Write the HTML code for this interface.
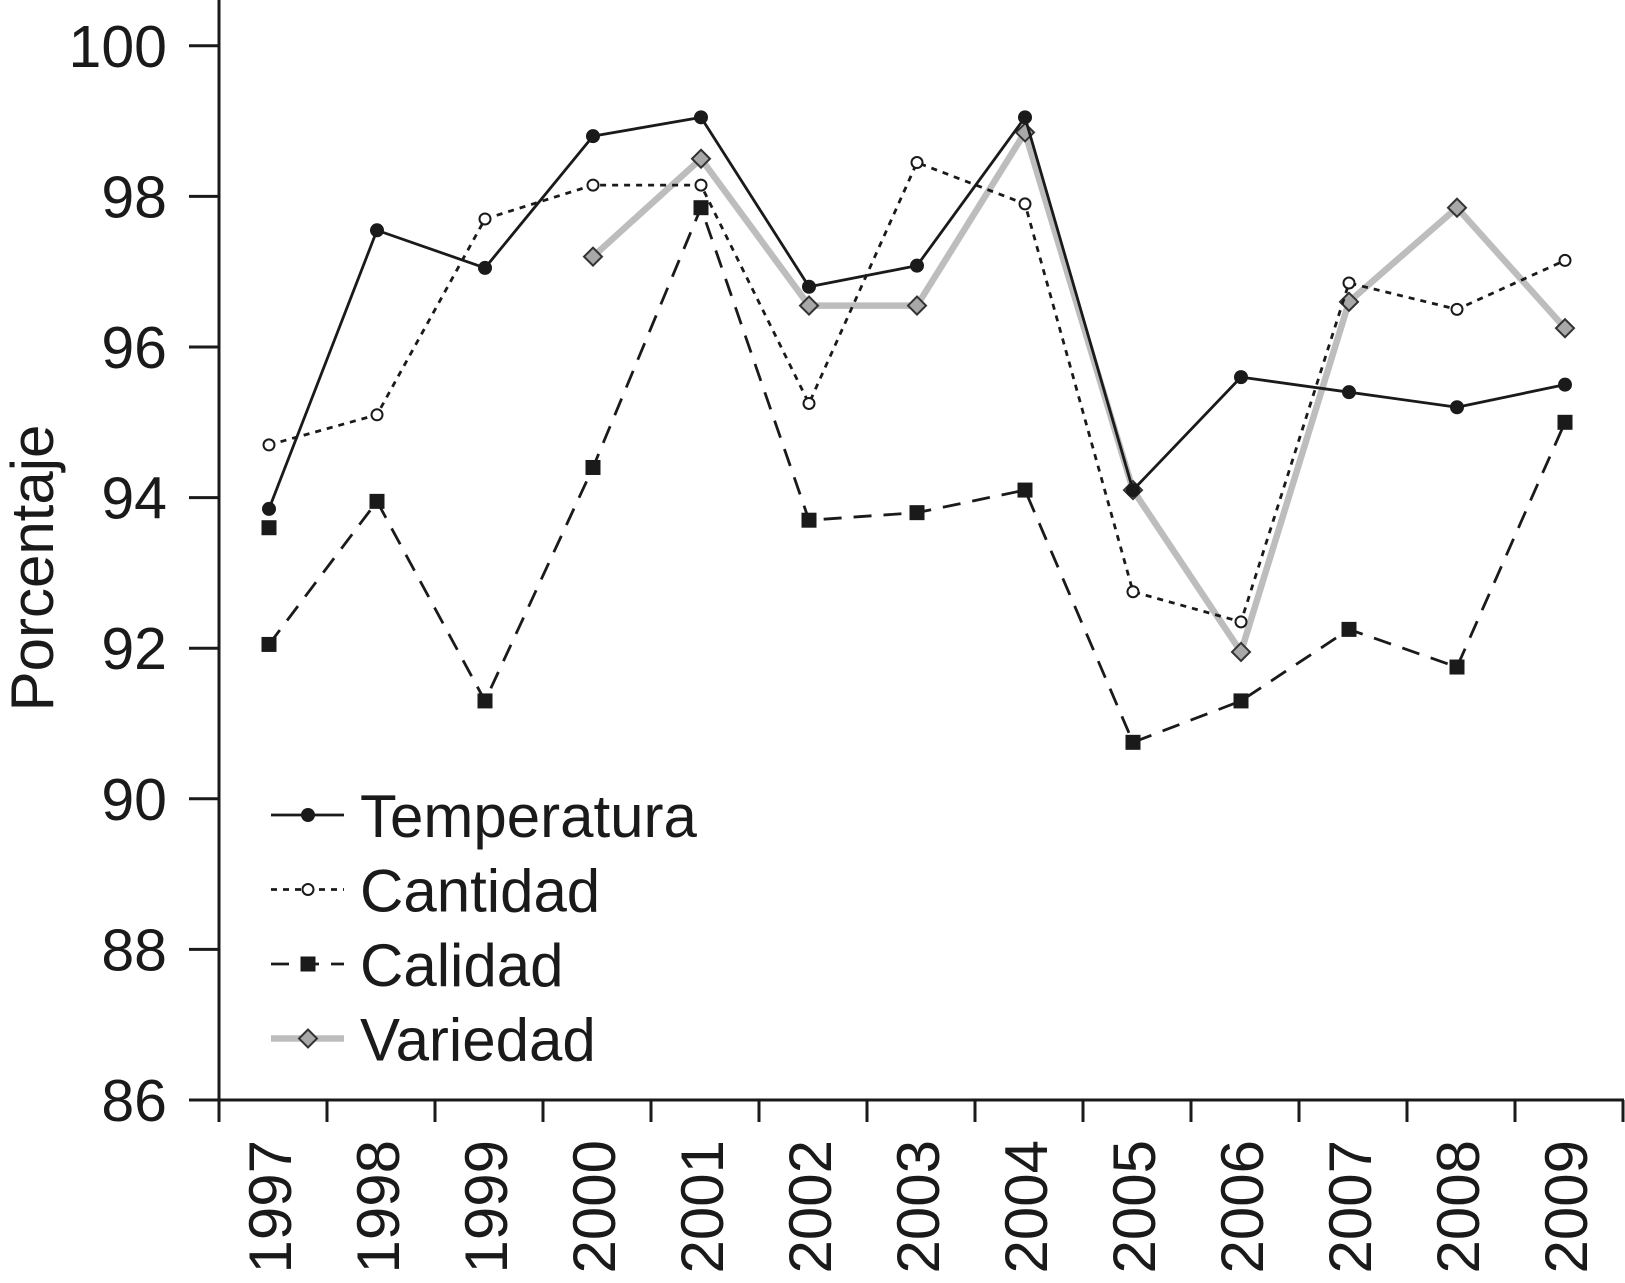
<!DOCTYPE html>
<html><head><meta charset="utf-8"><style>
html,body{margin:0;padding:0;background:#fff}
svg text{font-family:"Liberation Sans",sans-serif;fill:#1a1a1a}
</style></head><body>
<svg id="chart" width="1625" height="1278" viewBox="0 0 1625 1278" xmlns="http://www.w3.org/2000/svg"></svg>
<script>
const years=["1997","1998","1999","2000","2001","2002","2003","2004","2005","2006","2007","2008","2009"];
const temperatura=[93.85,97.55,97.05,98.8,99.05,96.8,97.08,99.05,94.1,95.6,95.4,95.2,95.5];
const cantidad=[94.7,95.1,97.7,98.15,98.15,95.25,98.45,97.9,92.75,92.35,96.85,96.5,97.15];
const calidad=[92.05,93.95,91.3,94.4,97.85,93.7,93.8,94.1,90.75,91.3,92.25,91.75,95.0];
const calidadExtra=[93.6];
const variedad=[null,null,null,97.2,98.5,96.55,96.55,98.85,94.1,91.95,96.6,97.85,96.25];
const yTicks=[86,88,90,92,94,96,98,100];

const NS="http://www.w3.org/2000/svg";
const svg=document.getElementById('chart');
const X0=219,STEP=108,Y0=1100,YMIN=86,PPU=75.3;
const xs=i=>X0+STEP*(i+0.5)-4;
const ys=v=>Y0-(v-YMIN)*PPU;
function el(t,a,p){const e=document.createElementNS(NS,t);for(const k in a)e.setAttribute(k,a[k]);(p||svg).appendChild(e);return e;}

let ax=el('line',{x1:X0,y1:0,x2:X0,y2:Y0+1,stroke:'#1a1a1a','stroke-width':3});


ax=el('line',{x1:X0-1,y1:Y0,x2:1624,y2:Y0,stroke:'#1a1a1a','stroke-width':3});


yTicks.forEach(v=>{
  const t=el('line',{x1:189,y1:ys(v),x2:X0,y2:ys(v),stroke:'#1a1a1a','stroke-width':3});
  
  
  const l=el('text',{x:167,y:ys(v)+21,'text-anchor':'end','font-size':59});
  l.textContent=v;
  
  
});
for(let i=0;i<=years.length;i++){
  const t=el('line',{x1:X0+STEP*i,y1:Y0,x2:X0+STEP*i,y2:Y0+22,stroke:'#1a1a1a','stroke-width':3});
  
  
}
years.forEach((y,i)=>{
  const l=el('text',{x:0,y:0,'text-anchor':'end','font-size':60,transform:`translate(${xs(i)+22},1140) rotate(-90)`});
  l.textContent=y;
  
  
});
const yl=el('text',{x:0,y:0,'text-anchor':'middle','font-size':60,transform:'translate(53,568) rotate(-90)'});
yl.textContent='Porcentaje';



function path(arr){let d='',pen=false;arr.forEach((v,i)=>{if(v==null){pen=false;return;}d+=(pen?'L':'M')+xs(i)+' '+ys(v)+' ';pen=true;});return d;}
function marker(kind,x,y,g){
  if(kind==='dot')return el('circle',{cx:x,cy:y,r:7,fill:'#1a1a1a'},g);
  if(kind==='open')return el('circle',{cx:x,cy:y,r:5.5,fill:'#fff',stroke:'#1a1a1a','stroke-width':2},g);
  if(kind==='sq')return el('rect',{x:x-7.5,y:y-7.5,width:15,height:15,fill:'#1a1a1a'},g);
  return el('polygon',{points:`${x},${y-9} ${x+9},${y} ${x},${y+9} ${x-9},${y}`,fill:'#a8a8a8',stroke:'#333','stroke-width':2},g);
}
const series=[
 {name:'variedad',data:variedad,stroke:'#bdbdbd',w:6.5,dash:'',m:'dia'},
 {name:'calidad',data:calidad,stroke:'#1a1a1a',w:2.8,dash:'18 12',m:'sq'},
 {name:'cantidad',data:cantidad,stroke:'#1a1a1a',w:2.8,dash:'6 6',m:'open'},
 {name:'temperatura',data:temperatura,stroke:'#1a1a1a',w:2.8,dash:'',m:'dot'}
];
series.forEach(s=>{
  const g=el('g',{});
  
  
  const p=el('path',{d:path(s.data),fill:'none',stroke:s.stroke,'stroke-width':s.w,'stroke-dasharray':s.dash,'stroke-linejoin':'round'},g);
  
  
  s.data.forEach((v,i)=>{if(v==null)return;
    const m=marker(s.m,xs(i),ys(v),g);
    
    
  });
  if(s.name==='calidad')calidadExtra.forEach((v,i)=>{
    const m=marker('sq',xs(i),ys(v),g);
    
    
  });
});
const leg=[['Temperatura','#1a1a1a',2.8,'','dot'],['Cantidad','#1a1a1a',2.8,'6 6','open'],['Calidad','#1a1a1a',2.8,'18 12','sq'],['Variedad','#bdbdbd',6.5,'','dia']];
const lg=el('g',{});


leg.forEach((e,i)=>{
  const y=815+i*74.5;
  const g=el('g',{},lg);
  
  
  el('line',{x1:271,y1:y,x2:344,y2:y,stroke:e[1],'stroke-width':e[2],'stroke-dasharray':e[3]},g);
  marker(e[4],308,y,g);
  const t=el('text',{x:360,y:y+22,'font-size':60},g);
  t.textContent=e[0];
});
</script>
</body></html>
